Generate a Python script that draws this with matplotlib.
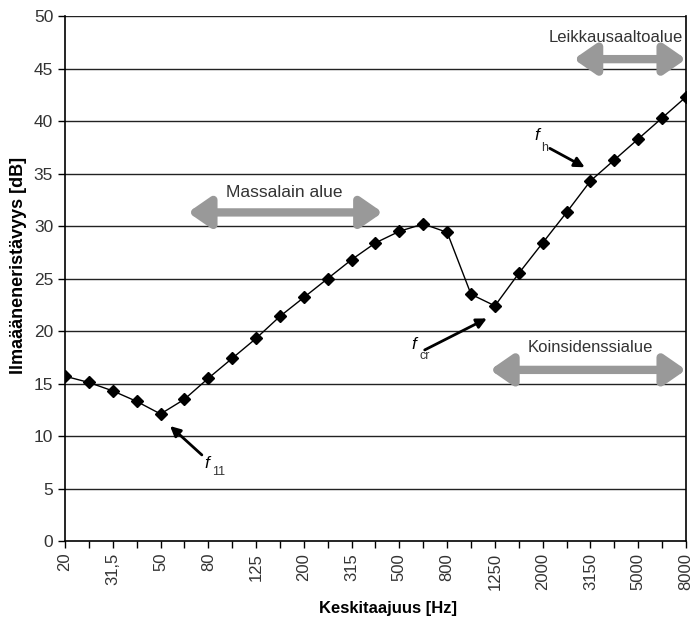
import numpy as np
import matplotlib.pyplot as plt

plt.rcParams['font.family'] = ['Liberation Sans', 'DejaVu Sans']

freqs = ["20", "25", "31,5", "40", "50", "63", "80", "100", "125", "160", "200",
         "250", "315", "400", "500", "630", "800", "1000", "1250", "1600", "2000",
         "2500", "3150", "4000", "5000", "6300", "8000"]
R = [15.7, 15.1, 14.3, 13.3, 12.1, 13.5, 15.5, 17.4, 19.3, 21.4, 23.2,
     25.0, 26.8, 28.4, 29.5, 30.2, 29.4, 23.5, 22.4, 25.5, 28.4,
     31.3, 34.3, 36.3, 38.3, 40.3, 42.3]

x = np.arange(len(freqs))
grey = '#999999'
txt = '#333333'

fig = plt.figure(figsize=(6.9, 6.19), dpi=100)
ax = fig.add_axes([0.0942, 0.126, 0.9, 0.848])

for v in range(5, 51, 5):
    ax.axhline(v, color='#222222', lw=1.0, zorder=1)

ax.plot(x, R, color='black', lw=1.0, marker='D', markersize=6.5, zorder=3)

ax.set_xlim(0, len(freqs) - 1)
ax.set_ylim(0, 50)
ax.set_yticks(range(0, 51, 5))
ax.set_xticks(x)
ax.set_xticklabels([f if i % 2 == 0 else '' for i, f in enumerate(freqs)],
                   rotation=90, fontsize=12, color=txt)
ax.tick_params(axis='y', labelsize=12.5, labelcolor=txt)
ax.tick_params(direction='out', length=5, width=1)
ax.spines['top'].set_visible(False)
for s in ['left', 'right', 'bottom']:
    ax.spines[s].set_linewidth(1.2)

ax.set_xlabel('Keskitaajuus [Hz]', fontsize=12, fontweight='bold', labelpad=8)
ax.set_ylabel('Ilmaääneneristävyys [dB]', fontsize=13, fontweight='bold', labelpad=5)
ax.xaxis.label.set_x(0.52)
ax.yaxis.label.set_y(0.525)

# grey range arrows
astyle = dict(arrowstyle='<|-|>,head_length=1.3,head_width=0.9', lw=6,
              color=grey, shrinkA=0, shrinkB=0)
ax.annotate('', xy=(5.15, 31.3), xytext=(13.3, 31.3), arrowprops=astyle, zorder=4)
ax.text(9.2, 33.2, 'Massalain alue', ha='center', va='center', fontsize=12.5, color=txt)

ax.annotate('', xy=(21.3, 45.9), xytext=(26, 45.9), arrowprops=astyle,
            zorder=4, annotation_clip=False)
ax.text(25.85, 48.0, 'Leikkausaaltoalue', ha='right', va='center', fontsize=12, color=txt)

ax.annotate('', xy=(17.8, 16.3), xytext=(26, 16.3), arrowprops=astyle,
            zorder=4, annotation_clip=False)
ax.text(22.0, 18.4, 'Koinsidenssialue', ha='center', va='center', fontsize=12, color=txt)

# black pointer arrows
pstyle = dict(arrowstyle='-|>,head_length=0.6,head_width=0.3', lw=2,
              color='black', shrinkA=0, shrinkB=0)
ax.annotate('', xy=(4.4, 10.95), xytext=(5.73, 8.2), arrowprops=pstyle, zorder=5)
ax.text(5.85, 7.4, 'f', style='italic', fontsize=12.5, ha='left', va='center')
ax.text(6.15, 6.6, '11', fontsize=9, ha='left', va='center', color=txt)

ax.annotate('', xy=(17.66, 21.2), xytext=(15.06, 18.2), arrowprops=pstyle, zorder=5)
ax.text(14.5, 18.7, 'f', style='italic', fontsize=12.5, ha='left', va='center')
ax.text(14.85, 17.6, 'cr', fontsize=9, ha='left', va='center', color=txt)

ax.annotate('', xy=(21.76, 35.6), xytext=(20.3, 37.4), arrowprops=pstyle, zorder=5)
ax.text(19.65, 38.6, 'f', style='italic', fontsize=12.5, ha='left', va='center')
ax.text(19.95, 37.4, 'h', fontsize=9, ha='left', va='center', color=txt)

fig.savefig('out.png', dpi=100)
